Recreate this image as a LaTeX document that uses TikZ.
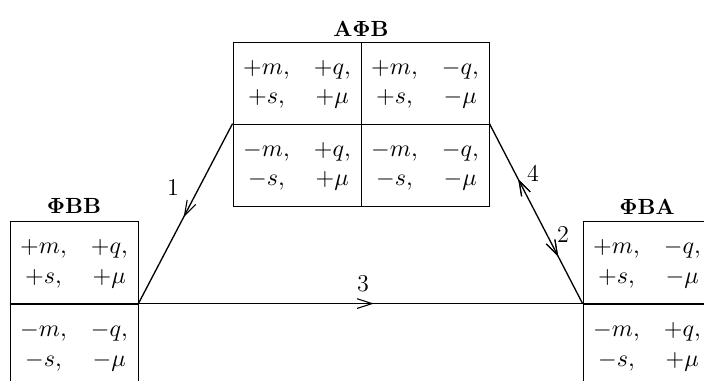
\documentclass[tikz,border=0pt]{standalone}
\usepackage{amsmath}
\usetikzlibrary{positioning,arrows.meta,decorations.markings}
\newcommand{\signs}[4]{$\renewcommand{\arraystretch}{1}%
  \begin{array}{@{}c@{\hspace{11pt}}c@{}} #1m, & #2q,\\ #3s, & #4\mu \end{array}$}
\tikzset{
  cellbox/.style={draw, line width=0.4pt, rectangle, inner sep=0pt,
                  minimum width=2.048cm, minimum height=1.312cm},
  ttl/.style={font=\fontsize{10}{12}\selectfont\bfseries, inner sep=1pt},
  link/.style={line width=0.6pt},
  barb/.tip={Straight Barb[length=6.8pt, width=4.4pt, line width=0.5pt]},
  fwd/.style={postaction={decorate}, decoration={markings,
              mark=at position #1 with {\arrow{barb}}}},
  bwd/.style={postaction={decorate}, decoration={markings,
              mark=at position #1 with {\arrowreversed{barb}}}},
  num/.style={inner sep=1pt},
}
\begin{document}
\begin{tikzpicture}[x=0.016cm, y=-0.016cm, font=\fontsize{11}{13.66}\selectfont]
\useasboundingbox (0,0) rectangle (704,380);
\clip (0,0) rectangle (704,380);
% top block
\node[cellbox] (afvTL) at (297,83)  {\signs{+}{+}{+}{+}};
\node[cellbox] (afvTR) at (425,83)  {\signs{+}{-}{+}{-}};
\node[cellbox] (afvBL) at (297,165) {\signs{-}{+}{-}{+}};
\node[cellbox] (afvBR) at (425,165) {\signs{-}{-}{-}{-}};
\node[ttl] (afv) at (361,29) {A$\mathbf{\Phi}$B};
% left block
\node[cellbox] (fvvT) at (74,262.5) {\signs{+}{+}{+}{+}};
\node[cellbox] (fvvB) at (74,345) {\signs{-}{-}{-}{-}};
\node[ttl] (fvv) at (74,206) {$\mathbf{\Phi}$BB};
% right block
\node[cellbox] (fvaT) at (647,262.5) {\signs{+}{-}{+}{-}};
\node[cellbox] (fvaB) at (647,345) {\signs{-}{+}{-}{+}};
\node[ttl] (fva) at (647,207) {$\mathbf{\Phi}$BA};
% transitions
\draw[link, fwd=0.52] (afvBL.north west) -- (fvvB.north east);
\draw[link, fwd=0.53] (fvvB.north east) -- (fvaB.north west);
\draw[link, fwd=0.74, bwd=0.31] (afvBR.north east) -- (fvaB.north west);
\node[num] (n1) at (173,187) {1};
\node[num] (n3) at (363,284) {3};
\node[num] (n4) at (533,173) {4};
\node[num] (n2) at (563,234) {2};
\end{tikzpicture}
\end{document}
